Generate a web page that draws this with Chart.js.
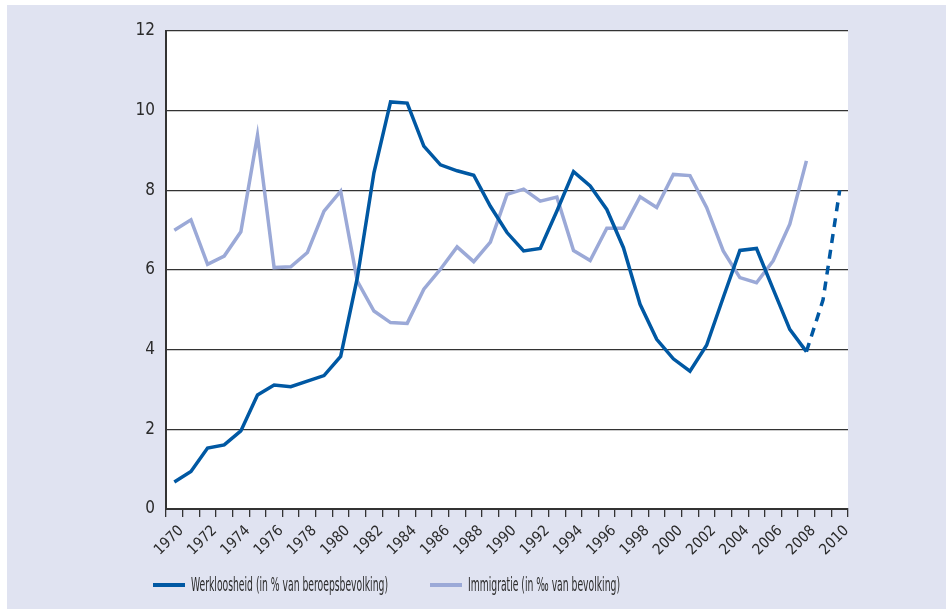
<!DOCTYPE html>
<html>
<head>
<meta charset="utf-8">
<script src="https://cdn.jsdelivr.net/npm/chart.js@4.4.1/dist/chart.umd.min.js"></script>
<style>
  html, body { margin: 0; padding: 0; background: #fff; }
  #wrap { position: absolute; left: 7px; top: 5px; width: 939px; height: 604px; background: #e0e3f1; }
</style>
</head>
<body>
<div id="wrap"><canvas id="chart" width="939" height="604"></canvas></div>
<script>
// jaren op de x-as
const years = [];
for (let y = 1970; y <= 2010; y++) years.push(String(y));

// werkloosheid in % van de beroepsbevolking (2009-2010 gestippeld)
const werkloosheid = [0.68, 0.94, 1.53, 1.61, 1.96, 2.86, 3.11, 3.07, 3.21, 3.35,
  3.83, 5.8, 8.44, 10.22, 10.19, 9.11, 8.64, 8.49, 8.38, 7.6,
  6.94, 6.48, 6.54, 7.48, 8.47, 8.11, 7.52, 6.56, 5.14, 4.26,
  3.77, 3.46, 4.11, 5.31, 6.49, 6.54, 5.52, 4.51, 3.95, 5.25,
  8.0];

// immigratie in promille van de bevolking
const immigratie = [7.0, 7.26, 6.14, 6.35, 6.96, 9.38, 6.06, 6.08, 6.44, 7.48,
  7.98, 5.72, 4.97, 4.68, 4.66, 5.52, 6.02, 6.58, 6.21, 6.7,
  7.9, 8.03, 7.73, 7.83, 6.49, 6.24, 7.05, 7.05, 7.84, 7.57,
  8.4, 8.37, 7.57, 6.48, 5.81, 5.68, 6.23, 7.15, 8.74, null,
  null];

const yTicks = [0, 2, 4, 6, 8, 10, 12];

const donker = '#0058a3';
const licht = '#9ba9d7';
const tekst = '#2b2b2b';
const fontNaam = '"DejaVu Sans Condensed", "Liberation Sans Narrow", sans-serif';

// witte plotachtergrond
const plotBg = {
  id: 'plotBg',
  beforeDraw(chart) {
    const { ctx, chartArea } = chart;
    ctx.save();
    ctx.fillStyle = '#ffffff';
    ctx.fillRect(chartArea.left, chartArea.top, chartArea.right - chartArea.left, chartArea.bottom - chartArea.top);
    ctx.restore();
  }
};

// legenda onder de grafiek, smalle letters zoals in het origineel
const smalleLegenda = {
  id: 'smalleLegenda',
  afterDraw(chart) {
    const ctx = chart.ctx;
    const y = 580;
    const smal = 0.54;
    let x = 146;
    ctx.save();
    ctx.font = '19px ' + fontNaam;
    ctx.textBaseline = 'middle';
    chart.data.datasets.forEach(ds => {
      ctx.strokeStyle = ds.borderColor;
      ctx.lineWidth = 4;
      ctx.beginPath();
      ctx.moveTo(x, y);
      ctx.lineTo(x + 32, y);
      ctx.stroke();
      x += 38;
      ctx.save();
      ctx.translate(x, y + 1);
      ctx.scale(smal, 1);
      ctx.fillStyle = tekst;
      ctx.fillText(ds.label, 0, 0);
      ctx.restore();
      x += ctx.measureText(ds.label).width * smal + 42;
    });
    ctx.restore();
  }
};

const ctx = document.getElementById('chart').getContext('2d');
new Chart(ctx, {
  type: 'line',
  data: {
    labels: years,
    datasets: [
      {
        label: 'Werkloosheid (in % van beroepsbevolking)',
        data: werkloosheid,
        borderColor: donker,
        backgroundColor: donker,
        borderWidth: 3.5,
        pointRadius: 0,
        tension: 0,
        segment: {
          borderDash: c => (c.p0DataIndex >= 38 ? [9, 7] : undefined)
        }
      },
      {
        label: 'Immigratie (in \u2030 van bevolking)',
        data: immigratie,
        borderColor: licht,
        backgroundColor: licht,
        borderWidth: 3.5,
        pointRadius: 0,
        tension: 0
      }
    ]
  },
  options: {
    responsive: false,
    animation: false,
    layout: { padding: { top: 26, right: 98, left: 0, bottom: 51 } },
    plugins: {
      tooltip: { enabled: false },
      legend: { display: false }
    },
    scales: {
      x: {
        type: 'category',
        offset: true,
        grid: {
          offset: true,
          drawOnChartArea: false,
          drawTicks: true,
          tickLength: 8,
          color: '#333',
          lineWidth: 1.3
        },
        border: { display: true, color: '#333', width: 2 },
        ticks: {
          autoSkip: false,
          maxRotation: 45,
          minRotation: 45,
          padding: 5,
          labelOffset: 7,
          color: tekst,
          font: { family: fontNaam, size: 15 },
          callback(v, i) {
            const l = years[i];
            return Number(l) % 2 === 0 ? l : '';
          }
        },
        afterFit(scale) { scale.height = 49; }
      },
      y: {
        min: 0,
        max: 12,
        afterBuildTicks(scale) { scale.ticks = yTicks.map(v => ({ value: v })); },
        grid: { color: '#333', lineWidth: 1.3, drawTicks: false },
        border: { display: true, color: '#333', width: 2 },
        ticks: {
          padding: 11,
          color: tekst,
          font: { family: fontNaam, size: 17 }
        },
        afterFit(scale) { scale.width = 159; }
      }
    }
  },
  plugins: [plotBg, smalleLegenda]
});
</script>
</body>
</html>
